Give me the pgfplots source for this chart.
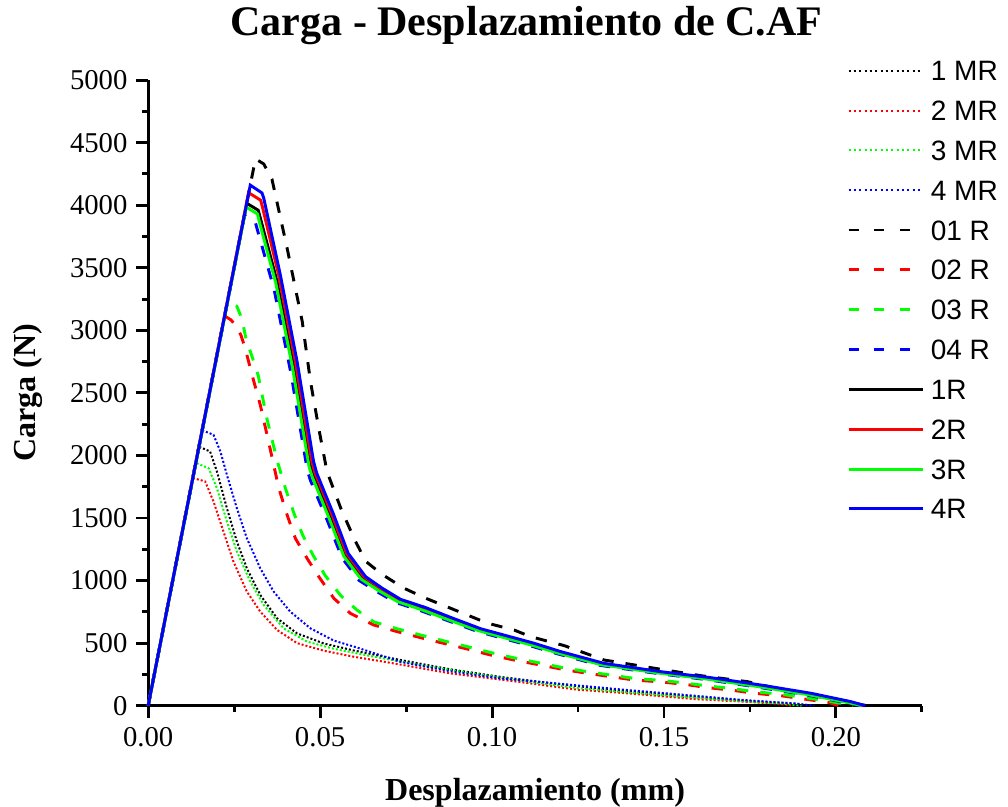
\documentclass[border=0pt]{standalone}
\usepackage{fontspec}
\setmainfont{Liberation Serif}
\newfontfamily\legendfont{Liberation Sans}
\usepackage{pgfplots}
\pgfplotsset{compat=1.18}
\definecolor{cgreen}{RGB}{0,255,0}
\definecolor{cred}{RGB}{255,0,0}
\definecolor{cblue}{RGB}{0,0,255}
\begin{document}
\begin{tikzpicture}
\useasboundingbox (-111pt,-75.75pt) rectangle (644.25pt,528.75pt);
\begin{axis}[
  scale only axis, width=579.75pt, height=468.75pt,
  xmin=0, xmax=0.225, ymin=0, ymax=5000,
  axis lines=left, axis line style={-, line width=2.2pt},
  clip=false,
  xtick={0,0.05,0.1,0.15,0.2},
  minor xtick={0.025,0.075,0.125,0.175,0.225},
  ytick={0,500,...,5000},
  minor ytick={250,750,...,4750},
  tick align=outside,
  major tick length=9pt, minor tick length=4.5pt,
  every tick/.style={line width=2.2pt, black},
  scaled x ticks=false,
  /pgf/number format/assume math mode=true,
  ticklabel style={font=\fontsize{21.5}{21.5}\selectfont},
  xticklabel style={/pgf/number format/.cd, fixed, fixed zerofill, precision=2, /tikz/yshift=-4pt},
  yticklabel style={/pgf/number format/1000 sep={}, /tikz/xshift=-3pt},
  title={Carga - Desplazamiento de C.AF},
  title style={font=\bfseries\fontsize{31.5}{31.5}\selectfont, at={(axis description cs:0.489,1.075)}, anchor=center, inner sep=0pt},
  xlabel={Desplazamiento (mm)},
  xlabel style={font=\bfseries\fontsize{24}{24}\selectfont, at={(axis description cs:0.5,-0.14)}, anchor=center, inner sep=0pt},
  ylabel={Carga (N)},
  ylabel style={font=\bfseries\fontsize{24}{24}\selectfont, at={(axis description cs:-0.155,0.5)}, anchor=center, inner sep=0pt},
  legend cell align=left,
  legend style={at={(axis description cs:0.903,1.0368)}, anchor=north west, draw=none, fill=none, inner sep=0pt, row sep=9.85pt, column sep=5pt, font=\legendfont\fontsize{21}{21}\selectfont, nodes={inner sep=0pt, text height=17.5pt, text depth=2.5pt}},
  legend image code/.code={\draw[#1] (0pt,0pt) -- (55.5pt,0pt);},
  dotted style/.style={line width=1.5pt, dash pattern=on 1.5pt off 1.5pt, legend image post style={dash pattern=on 1.5pt off 2.5pt}},
  dashed style/.style={line width=2.2pt, dash pattern=on 8.5pt off 9pt, legend image post style={dash pattern=on 7.5pt off 11.6pt}},
  solid style/.style={line width=2.2pt},
]
% ---- dotted (MR) ----
\addplot[black, dotted style] coordinates {(0,0) (0.0148,2070) (0.0180,2032) (0.0200,1872) (0.0229,1578) (0.0258,1312) (0.0287,1098) (0.0326,885) (0.0375,698) (0.0433,578) (0.0510,498) (0.0600,440) (0.0734,365) (0.0880,290) (0.1025,230) (0.1171,180) (0.1300,140) (0.1450,105) (0.1600,70) (0.1750,38) (0.1880,15) (0.1920,0)};
\addlegendentry{1 MR}
\addplot[cred, dotted style] coordinates {(0,0) (0.0130,1820) (0.0166,1792) (0.0190,1632) (0.0219,1392) (0.0248,1152) (0.0287,912) (0.0326,752) (0.0375,605) (0.0433,500) (0.0510,440) (0.0600,390) (0.0685,352) (0.0880,258) (0.1073,192) (0.1248,128) (0.1394,99) (0.1588,53) (0.1733,32) (0.1830,15) (0.1870,0)};
\addlegendentry{2 MR}
\addplot[cgreen, dotted style] coordinates {(0,0) (0.0139,1940) (0.0176,1898) (0.0200,1738) (0.0229,1472) (0.0258,1232) (0.0297,992) (0.0336,805) (0.0394,618) (0.0462,512) (0.0540,455) (0.0650,395) (0.0800,320) (0.0950,255) (0.1100,195) (0.1250,140) (0.1400,105) (0.1550,72) (0.1700,42) (0.1850,15) (0.1900,0)};
\addlegendentry{3 MR}
\addplot[cblue, dotted style] coordinates {(0,0) (0.0158,2200) (0.0190,2165) (0.0210,2032) (0.0229,1845) (0.0258,1578) (0.0287,1338) (0.0326,1098) (0.0365,912) (0.0413,752) (0.0472,618) (0.0540,520) (0.0607,465) (0.0734,350) (0.0879,275) (0.1025,218) (0.1171,182) (0.1248,162) (0.1394,125) (0.1588,80) (0.1733,45) (0.1879,19) (0.1937,0)};
\addlegendentry{4 MR}
% ---- dashed (0x R) ----
\addplot[black, dashed style] coordinates {(0,0) (0.0312,4370) (0.0336,4330) (0.0360,4208) (0.0404,3658) (0.0448,3072) (0.0472,2592) (0.0496,2218) (0.0520,1872) (0.0562,1565) (0.0602,1318) (0.0633,1153) (0.0680,1050) (0.0743,940) (0.0806,860) (0.0928,725) (0.0986,660) (0.1064,605) (0.1112,552) (0.1210,480) (0.1326,365) (0.1462,304) (0.1607,240) (0.1743,192) (0.1879,105) (0.2015,40) (0.2090,0)};
\addlegendentry{01 R}
\addplot[cred, dashed style] coordinates {(0,0) (0.0222,3115) (0.0240,3085) (0.0255,3040) (0.0270,2960) (0.0282,2858) (0.0302,2645) (0.0326,2405) (0.0350,2112) (0.0380,1738) (0.0404,1525) (0.0428,1338) (0.0462,1178) (0.0496,1032) (0.0540,858) (0.0588,738) (0.0656,645) (0.0724,592) (0.0792,544) (0.0860,498) (0.0928,453) (0.0996,405) (0.1064,365) (0.1141,325) (0.1210,288) (0.1277,259) (0.1345,232) (0.1414,205) (0.1491,190) (0.1560,171) (0.1627,144) (0.1695,125) (0.1763,99) (0.1840,80) (0.1908,53) (0.1977,27) (0.2010,0)};
\addlegendentry{02 R}
\addplot[cgreen, dashed style] coordinates {(0,0) (0.0230,3225) (0.0258,3192) (0.0273,3088) (0.0287,2900) (0.0297,2832) (0.0320,2640) (0.0345,2298) (0.0375,1960) (0.0400,1730) (0.0425,1530) (0.0450,1360) (0.0480,1200) (0.0515,1040) (0.0560,880) (0.0607,765) (0.0656,670) (0.0724,615) (0.0792,565) (0.0860,518) (0.0928,472) (0.0996,425) (0.1064,382) (0.1141,340) (0.1210,302) (0.1277,272) (0.1345,245) (0.1414,218) (0.1491,202) (0.1560,182) (0.1627,158) (0.1695,138) (0.1763,112) (0.1840,92) (0.1908,65) (0.1977,38) (0.2030,10) (0.2050,0)};
\addlegendentry{03 R}
\addplot[cblue, dashed style] coordinates {(0,0) (0.0280,3920) (0.0312,3860) (0.0318,3800) (0.0366,3330) (0.0415,2660) (0.0463,1880) (0.0472,1800) (0.0521,1480) (0.0564,1180) (0.0614,1000) (0.0665,912) (0.0720,825) (0.0795,757) (0.0875,676) (0.0957,594) (0.1110,480) (0.1190,415) (0.1315,322) (0.1480,258) (0.1625,208) (0.1773,148) (0.1918,84) (0.2032,22) (0.2072,0)};
\addlegendentry{04 R}
% ---- solid (R) ----
\addplot[black, solid style] coordinates {(0,0) (0.0287,4015) (0.0320,3960) (0.0326,3900) (0.0374,3400) (0.0423,2720) (0.0471,1930) (0.0480,1845) (0.0529,1515) (0.0572,1205) (0.0622,1022) (0.0672,928) (0.0727,838) (0.0800,770) (0.0880,688) (0.0962,606) (0.1115,490) (0.1195,423) (0.1320,330) (0.1485,265) (0.1630,215) (0.1778,156) (0.1922,92) (0.2037,28) (0.2078,0)};
\addlegendentry{1R}
\addplot[cred, solid style] coordinates {(0,0) (0.0292,4100) (0.0327,4040) (0.0332,3990) (0.0379,3448) (0.0428,2752) (0.0476,1952) (0.0485,1860) (0.0534,1530) (0.0577,1216) (0.0627,1032) (0.0677,935) (0.0731,845) (0.0803,778) (0.0882,693) (0.0964,612) (0.1118,495) (0.1197,428) (0.1323,335) (0.1487,268) (0.1633,220) (0.1780,160) (0.1925,95) (0.2040,30) (0.2080,0)};
\addlegendentry{2R}
\addplot[cgreen, solid style] coordinates {(0,0) (0.0285,3985) (0.0318,3930) (0.0323,3870) (0.0371,3380) (0.0420,2700) (0.0468,1910) (0.0477,1830) (0.0526,1500) (0.0569,1195) (0.0619,1012) (0.0670,920) (0.0725,832) (0.0798,764) (0.0878,682) (0.0960,600) (0.1113,486) (0.1193,420) (0.1318,327) (0.1483,262) (0.1628,212) (0.1776,152) (0.1920,88) (0.2035,25) (0.2075,0)};
\addlegendentry{3R}
\addplot[cblue, solid style] coordinates {(0,0) (0.0297,4160) (0.0331,4098) (0.0336,4058) (0.0384,3448) (0.0433,2752) (0.0481,1952) (0.0490,1860) (0.0539,1530) (0.0582,1216) (0.0632,1032) (0.0680,940) (0.0734,850) (0.0806,785) (0.0885,700) (0.0967,615) (0.1121,500) (0.1200,432) (0.1326,338) (0.1490,272) (0.1636,224) (0.1782,165) (0.1928,99) (0.2044,32) (0.2085,0)};
\addlegendentry{4R}
\end{axis}
\end{tikzpicture}
\end{document}
